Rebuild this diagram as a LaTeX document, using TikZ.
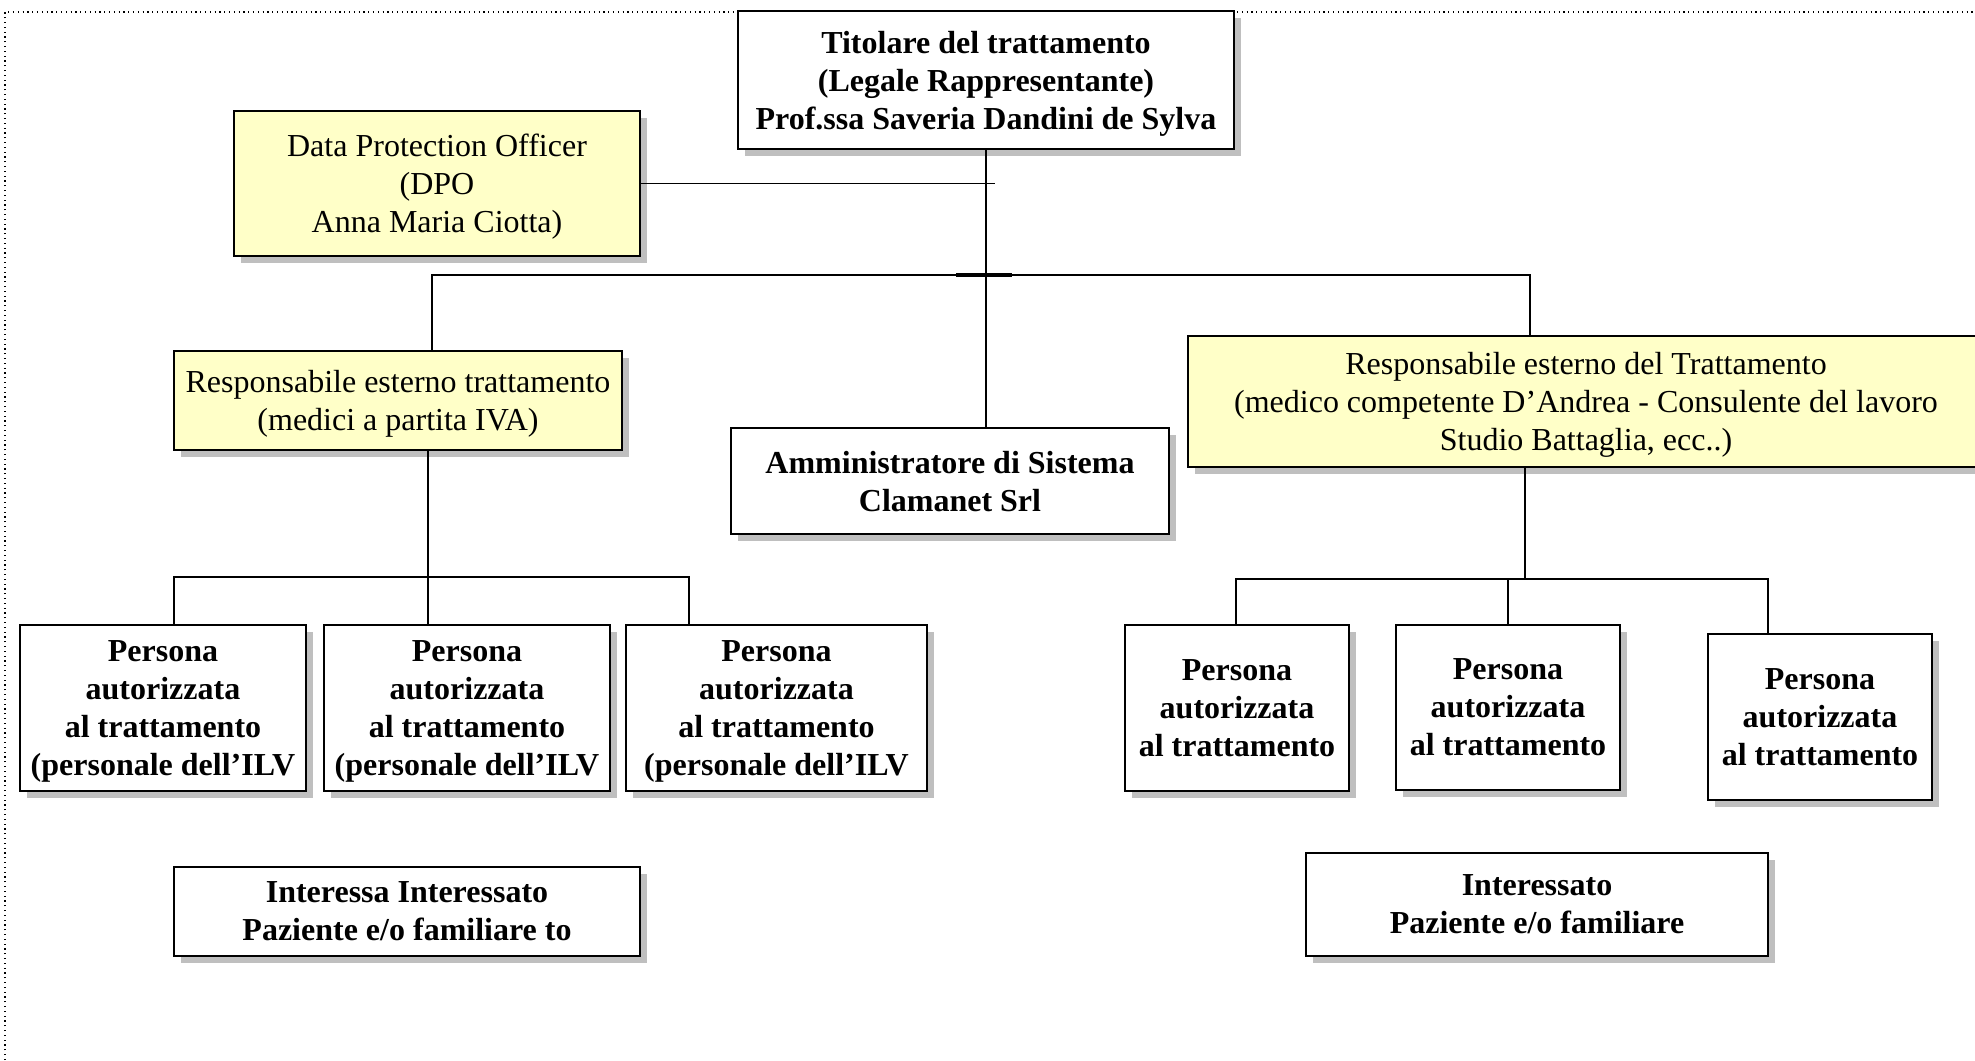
\documentclass[tikz,border=0pt]{standalone}
\usepackage{fontspec}
\setmainfont{Liberation Serif}
\usetikzlibrary{shadows}
\definecolor{paleyellow}{HTML}{FFFFC8}
\tikzset{
  box/.style={draw=black, line width=1pt, fill=white, align=center, inner sep=0pt,
    font=\fontsize{16}{19}\selectfont, text depth=-1.3pt,
    drop shadow={shadow xshift=3.5pt, shadow yshift=-3.5pt, fill=black!25, opacity=1}},
  bbox/.style={box, font=\fontsize{16}{19}\selectfont\bfseries},
  ybox/.style={box, fill=paleyellow},
  link/.style={draw=black, line width=0.8pt}
}
\begin{document}
\begin{tikzpicture}[x=0.5pt, y=-0.5pt]
  \useasboundingbox (0,0) rectangle (1975,1060);
  % dotted frame
  \draw[line width=0.7pt, dash pattern=on 0.6pt off 1.8pt] (5,1060) -- (5,12) -- (1975,12);

  % top
  \node[bbox, minimum width=248pt, minimum height=69pt] (tit) at (986,80)
    {Titolare del trattamento\\(Legale Rappresentante)\\Prof.ssa Saveria Dandini de Sylva};
  \node[ybox, minimum width=203pt, minimum height=72.5pt] (dpo) at (437,183.5)
    {Data Protection Officer\\(DPO\\Anna Maria Ciotta)};

  % second level
  \node[ybox, minimum width=224pt, minimum height=49.5pt] (resA) at (398,400.5)
    {Responsabile esterno trattamento\\(medici a partita IVA)};
  \node[bbox, minimum width=219pt, minimum height=53pt] (amm) at (950,481)
    {Amministratore di Sistema\\Clamanet Srl};
  \node[ybox, minimum width=398pt, minimum height=65.5pt] (resB) at (1586,401.5)
    {Responsabile esterno del Trattamento\\(medico competente D’Andrea - Consulente del lavoro\\Studio Battaglia, ecc..)};

  % persone autorizzate
  \node[bbox, minimum width=143pt, minimum height=83pt] (pA1) at (163,708)
    {Persona\\autorizzata\\al trattamento\\(personale dell’ILV};
  \node[bbox, minimum width=143pt, minimum height=83pt] (pA2) at (467,708)
    {Persona\\autorizzata\\al trattamento\\(personale dell’ILV};
  \node[bbox, minimum width=150.5pt, minimum height=83pt] (pA3) at (776.5,708)
    {Persona\\autorizzata\\al trattamento\\(personale dell’ILV};
  \node[bbox, minimum width=112pt, minimum height=83pt] (pB1) at (1237,708)
    {Persona\\autorizzata\\al trattamento};
  \node[bbox, minimum width=112pt, minimum height=82.5pt] (pB2) at (1508,707.5)
    {Persona\\autorizzata\\al trattamento};
  \node[bbox, minimum width=112pt, minimum height=83pt] (pB3) at (1820,717)
    {Persona\\autorizzata\\al trattamento};

  % interessati
  \node[bbox, minimum width=233pt, minimum height=44.5pt] (intA) at (407,911.5)
    {Interessa Interessato\\Paziente e/o familiare to};
  \node[bbox, minimum width=231pt, minimum height=51.5pt] (intB) at (1537,904.5)
    {Interessato\\Paziente e/o familiare};

  % connectors
  \coordinate (dpoEnd) at (995,184);
  \coordinate (busL) at (432,275);
  \coordinate (busR) at (1530,275);
  \draw[link] (tit.south) -- (tit.south |- amm.north);
  \draw[link] (dpo.east) -- (dpo.east -| dpoEnd);
  \draw[link] (busL |- resA.north) -- (busL) -- (busR) -- (busR |- resB.north);
  \draw[link, line width=1.6pt] ([xshift=-15pt]tit.south |- busL) -- ([xshift=13pt]tit.south |- busL);

  \coordinate (busA) at (428,577);
  \coordinate (busA1) at (174,577);
  \coordinate (busA3) at (689,577);
  \draw[link] (busA |- resA.south) -- (busA |- pA2.north);
  \draw[link] (busA1 |- pA1.north) -- (busA1) -- (busA3) -- (busA3 |- pA3.north);

  \coordinate (busB) at (1525,579);
  \coordinate (busB1) at (1236,579);
  \coordinate (busB2) at (1508,579);
  \coordinate (busB3) at (1768,579);
  \draw[link] (busB |- resB.south) -- (busB);
  \draw[link] (busB1 |- pB1.north) -- (busB1) -- (busB3) -- (busB3 |- pB3.north);
  \draw[link] (busB2) -- (busB2 |- pB2.north);
\end{tikzpicture}
\end{document}
